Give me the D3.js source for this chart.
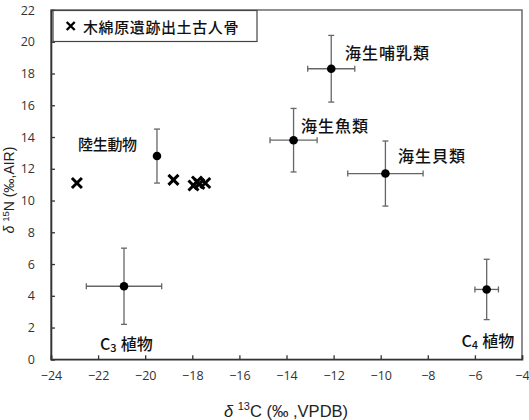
<!DOCTYPE html>
<html><head><meta charset="utf-8">
<script src="https://cdn.jsdelivr.net/npm/d3@7"></script>
<style>body{margin:0;background:#fff}svg{display:block}</style>
</head><body><svg id="c" width="529" height="420"></svg>
<script>
// reference groups: name, mean d13C, mean d15N, sd C, sd N
const groupNames = ["陸生動物","海生哺乳類","海生魚類","海生貝類","C3植物","C4植物"];
const groupC   = [-19.5, -12.1, -13.7, -9.8, -20.9, -5.5];
const groupN   = [12.8, 18.3, 13.8, 11.7, 4.6, 4.4];
const groupSdC = [0, 1.0, 1.0, 1.6, 1.6, 0.5];
const groupSdN = [1.7, 2.1, 2.0, 2.05, 2.4, 1.9];
// human bones from Kiwatabaru site
const humanC = [-22.9, -18.8, -17.95, -17.8, -17.7, -17.45];
const humanN = [11.1, 11.3, 10.95, 11.2, 11.05, 11.1];
const xTicks = [-24,-22,-20,-18,-16,-14,-12,-10,-8,-6,-4];
const yTicks = [0,2,4,6,8,10,12,14,16,18,20,22];

const svg = d3.select("#c");
const L=51, R=522, T=10, B=359.3;
const x = d3.scaleLinear().domain([-24,-4]).range([L,R]);
const y = d3.scaleLinear().domain([0,22]).range([B,T]);
const tickFont = "'Open Sans', 'Liberation Sans', Arial, sans-serif";
const jp = "'Noto Sans CJK JP', sans-serif";
const latin = "'Liberation Sans', Arial, sans-serif";

// frame
svg.append("rect").attr("x",L).attr("y",T).attr("width",R-L).attr("height",B-T)
  .attr("fill","none").attr("stroke","#555").attr("stroke-width",1.3);

// axes
const xa = svg.append("g").attr("transform",`translate(0,${B})`)
  .call(d3.axisBottom(x).tickValues(xTicks).tickSize(-4).tickPadding(12).tickFormat(d3.format("d")));
const ya = svg.append("g").attr("transform",`translate(${L},0)`)
  .call(d3.axisLeft(y).tickValues(yTicks).tickSize(-4).tickPadding(16).tickFormat(d3.format("d")));
[xa,ya].forEach(a=>{
  a.select(".domain").attr("stroke","#333").attr("stroke-width",1.6);
  a.selectAll(".tick line").attr("stroke","#333").attr("stroke-width",1.3);
  a.selectAll(".tick text").attr("font-family",tickFont).attr("font-size",12.5).attr("fill","#333");
});

// error bars
const eb = svg.append("g").attr("stroke","#666").attr("stroke-width",1.3);
groupC.forEach((c,i)=>{
  const cx=x(c), cy=y(groupN[i]);
  const y1=y(groupN[i]+groupSdN[i]), y2=y(groupN[i]-groupSdN[i]);
  eb.append("line").attr("x1",cx).attr("x2",cx).attr("y1",y1).attr("y2",y2);
  eb.append("line").attr("x1",cx-3).attr("x2",cx+3).attr("y1",y1).attr("y2",y1);
  eb.append("line").attr("x1",cx-3).attr("x2",cx+3).attr("y1",y2).attr("y2",y2);
  if(groupSdC[i]>0){
    const x1=x(c-groupSdC[i]), x2=x(c+groupSdC[i]);
    eb.append("line").attr("x1",x1).attr("x2",x2).attr("y1",cy).attr("y2",cy);
    eb.append("line").attr("x1",x1).attr("x2",x1).attr("y1",cy-3).attr("y2",cy+3);
    eb.append("line").attr("x1",x2).attr("x2",x2).attr("y1",cy-3).attr("y2",cy+3);
  }
});
svg.append("g").selectAll("circle").data(groupC).join("circle")
  .attr("cx",d=>x(d)).attr("cy",(d,i)=>y(groupN[i])).attr("r",4.3).attr("fill","#000");

// human crosses
const cross = (g,cx,cy,s,w)=>{
  g.append("path").attr("d",`M${cx-s},${cy-s}L${cx+s},${cy+s}M${cx-s},${cy+s}L${cx+s},${cy-s}`)
   .attr("stroke","#000").attr("stroke-width",w).attr("fill","none");
};
const hg = svg.append("g");
humanC.forEach((c,i)=>cross(hg,x(c),y(humanN[i]),5,3));

// group labels
const labels = [
  {t:"陸生動物", x:78, y:143.5, fs:15, ls:-0.3},
  {t:"海生哺乳類", x:345, y:51.5, fs:16, ls:1},
  {t:"海生魚類", x:301, y:125, fs:16, ls:1},
  {t:"海生貝類", x:398, y:154.5, fs:16, ls:1}
];
labels.forEach(l=>{
  svg.append("text").attr("x",l.x).attr("y",l.y).attr("dominant-baseline","central")
    .attr("font-family",jp).attr("font-size",l.fs).attr("font-weight",500).attr("letter-spacing",l.ls).attr("fill","#111").text(l.t);
});
// C3 / C4 labels
[[100,342.5,"3"],[461.5,340,"4"]].forEach(([lx,ly,sub])=>{
  const t=svg.append("text").attr("x",lx).attr("y",ly).attr("dominant-baseline","central")
    .attr("font-family",jp).attr("font-size",16).attr("font-weight",500).attr("fill","#111");
  t.append("tspan").text("C");
  t.append("tspan").attr("font-size",11).attr("dy",4).text(sub);
  t.append("tspan").attr("dy",-4).attr("dx",4).text("植物");
});

// legend
svg.append("rect").attr("x",53).attr("y",10.5).attr("width",204).attr("height",31)
  .attr("fill","#fff").attr("stroke","#444").attr("stroke-width",1.2);
cross(svg,70.7,26,4,2.4);
svg.append("text").attr("x",83).attr("y",26).attr("dominant-baseline","central")
  .attr("font-family",jp).attr("font-size",15).attr("font-weight",500).attr("letter-spacing",0.6).attr("fill","#111")
  .text("木綿原遺跡出土古人骨");

// axis titles
const xt = svg.append("text").attr("x",286).attr("y",411).attr("text-anchor","middle")
  .attr("dominant-baseline","central").attr("font-family",latin).attr("font-size",16.5).attr("fill","#222");
xt.append("tspan").attr("font-style","italic").text("δ ");
xt.append("tspan").attr("font-size",11).attr("dy",-5).text("13");
xt.append("tspan").attr("dy",5).text("C  (‰ ,VPDB)");

const yt = svg.append("text").attr("transform","translate(9,190) rotate(-90)").attr("text-anchor","middle")
  .attr("dominant-baseline","central").attr("font-family",latin).attr("font-size",14).attr("fill","#222");
yt.append("tspan").attr("font-style","italic").text("δ ");
yt.append("tspan").attr("font-size",9.5).attr("dy",-4).text("15");
yt.append("tspan").attr("dy",4).text("N (‰,AIR)");
</script></body></html>
